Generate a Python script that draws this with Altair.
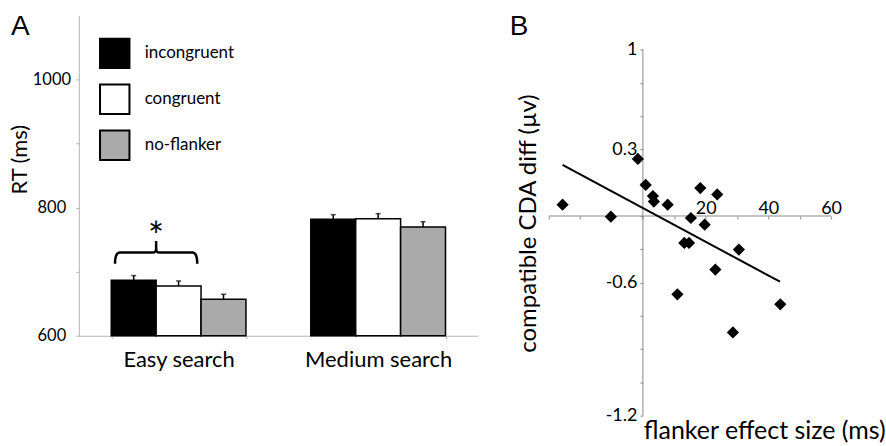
import altair as alt
import pandas as pd

# ---------------- Panel A data ----------------
groups = ["Easy search", "Medium search"]
conditions = ["incongruent", "congruent", "no-flanker"]
cond_colors = ["#000000", "#ffffff", "#aaaaaa"]
rt_easy = [686.6, 677.7, 657.0]
rt_medium = [781.7, 782.8, 769.7]
err_easy = [7.3, 7.8, 7.7]
err_medium = [7.3, 7.8, 8.3]
a_tick_vals = [600, 650, 700, 750, 800, 850, 900, 950, 1000, 1050]
a_label_vals = [600, 800, 1000]
a_domain = [600, 1100]
bracket_rt = [729.8]
star_rt = [751.0]

# ---------------- Panel B data ----------------
flanker_ms = [-25.6, -10.2, -1.6, 0.9, 3.2, 3.5, 7.9, 15.3, 18.3, 23.7,
              19.7, 13.2, 14.7, 30.6, 23.1, 11.0, 43.8, 28.7]
cda_diff = [0.068, -0.004, 0.343, 0.187, 0.120, 0.087, 0.068, -0.012, 0.168, 0.130,
            -0.052, -0.162, -0.162, -0.202, -0.322, -0.471, -0.531, -0.700]
fit_x = [-25.6, 43.7]
fit_y = [0.307, -0.395]
b_x_ticks = [-30, -20, -10, 0, 10, 20, 30, 40, 50, 60]
b_x_label_vals = [20, 40, 60]
b_y_ticks = [1, 0.8, 0.6, 0.4, 0.2, 0, -0.2, -0.4, -0.6, -0.8, -1, -1.2]
b_y_label_vals = [1, 0.4, -0.4, -1.2]
b_y_label_text = ["1", "0.3", "-0.6", "-1.2"]
bx_dom = [-30, 60]          # x axis extent
by_axis = [-1.2, 1]         # y axis extent
by_dom = [-1.2, 1.206]      # y scale (room above the axis)

FONT = "Lato"
LETTER_FONT = "Liberation Sans"

# ---------------- Panel A ----------------
A_W, A_H = 400, 321
df_bars = pd.DataFrame({
    "group": [g for g in groups for _ in conditions],
    "condition": conditions * 2,
    "rt": rt_easy + rt_medium,
    "err": err_easy + err_medium,
})
df_bars["upper"] = df_bars["rt"] + df_bars["err"]

a_label_expr = "indexof([" + ",".join(str(v) for v in a_label_vals) + "], datum.value) >= 0 ? format(datum.value, 'd') : ''"

x_a = alt.X("group:N",
            scale=alt.Scale(domain=groups, paddingInner=0.325, paddingOuter=0.1625),
            axis=alt.Axis(title=None, labelAngle=0, labelFontSize=22, labelFont=FONT,
                          labelColor="black", labelBaseline="alphabetic", labelPadding=28,
                          tickSize=3, tickBand="extent", domainColor="#b5b5b5",
                          tickColor="#b5b5b5", grid=False))
xo_a = alt.XOffset("condition:N", scale=alt.Scale(domain=conditions, paddingInner=0, paddingOuter=0))
y_scale_a = alt.Scale(domain=a_domain, zero=False, nice=False)
y_a = alt.Y("rt:Q", scale=y_scale_a,
            axis=alt.Axis(title="RT (ms)", values=a_tick_vals, labelExpr=a_label_expr,
                          labelFontSize=16.5, labelFont=FONT, labelColor="black",
                          labelAlign="center", labelPadding=24.5,
                          tickSize=3, domainColor="#b5b5b5", tickColor="#b5b5b5", grid=False,
                          labelOverlap=False, labelFlush=False,
                          titleFont=FONT, titleFontSize=22, titleFontWeight="normal",
                          titleColor="black", titleX=-59, titleY=144, titleAngle=270,
                          titleBaseline="middle", titleAlign="center"))

bars = alt.Chart(df_bars).mark_bar(stroke="black", strokeWidth=1.5).encode(
    x=x_a, xOffset=xo_a, y=y_a, y2=alt.datum(a_domain[0]),
    fill=alt.Fill("condition:N", scale=alt.Scale(domain=conditions, range=cond_colors),
                  legend=alt.Legend(title=None, orient="none", legendX=20, legendY=22,
                                    symbolType="square", symbolSize=870,
                                    symbolStrokeColor="black", symbolStrokeWidth=2,
                                    labelFontSize=17, labelFont=FONT, labelColor="black",
                                    labelOffset=14, rowPadding=8, padding=0)),
)
err_rules = alt.Chart(df_bars).mark_rule(color="black", strokeWidth=1.5).encode(
    x=x_a, xOffset=xo_a, y=alt.Y("rt:Q", scale=y_scale_a), y2="upper:Q")
err_caps = alt.Chart(df_bars).mark_tick(color="black", thickness=1.5, size=5).encode(
    x=x_a, xOffset=xo_a, y=alt.Y("upper:Q", scale=y_scale_a))

# significance bracket between incongruent and congruent (easy search)
df_br = pd.DataFrame({"group": ["Easy search"], "rt": bracket_rt})
bracket_path = "M-1,0.27 Q-1,0 -0.88,0 L-0.08,0 Q0,0 0,-0.1 L0,-0.28 M0,-0.1 Q0,0 0.08,0 L0.88,0 Q1,0 1,0.27"
bracket = alt.Chart(df_br).mark_point(shape=bracket_path, size=6790, filled=False,
                                      stroke="black", strokeWidth=2.5, opacity=1,
                                      xOffset=-22.5).encode(
    x=x_a, y=alt.Y("rt:Q", scale=y_scale_a))
df_star = pd.DataFrame({"group": ["Easy search"], "rt": star_rt})
star = alt.Chart(df_star).mark_text(text="*", font=FONT, fontSize=38, dx=-22.5,
                                    baseline="middle", color="black").encode(
    x=x_a, y=alt.Y("rt:Q", scale=y_scale_a))

panel_a = alt.layer(bars, err_rules, err_caps, bracket, star).properties(
    width=A_W, height=A_H,
    title=alt.TitleParams("A", anchor="start", frame="group", orient="top", baseline="top",
                          offset=-26, dx=-68, fontSize=28, font=LETTER_FONT,
                          fontWeight="normal", color="black"),
)

# ---------------- Panel B ----------------
B_W, B_H = 283, 401
x_axis_offset = B_H * (by_dom[1] - 0) / (by_dom[1] - by_dom[0]) - B_H
y_axis_offset = -B_W * (0 - bx_dom[0]) / (bx_dom[1] - bx_dom[0])

bx_label_expr = "indexof([" + ",".join(str(v) for v in b_x_label_vals) + "], datum.value) >= 0 ? datum.label : ''"
by_label_expr = ""
for v, t in zip(b_y_label_vals, b_y_label_text):
    by_label_expr += f"datum.value == {v} ? '{t}' : "
by_label_expr += "''"

df_sc = pd.DataFrame({"fx": flanker_ms, "cda": cda_diff})
df_fit = pd.DataFrame({"fx": fit_x, "cda": fit_y})
df_yaxis = pd.DataFrame({"fx": [0], "cda": [by_axis[0]], "cda2": [by_axis[1]]})
df_xaxis = pd.DataFrame({"fx": [bx_dom[0]], "fx2": [bx_dom[1]], "cda": [0]})

x_scale_b = alt.Scale(domain=bx_dom, nice=False, zero=False)
y_scale_b = alt.Scale(domain=by_dom, nice=False, zero=False)
x_b = alt.X("fx:Q", scale=x_scale_b,
            axis=alt.Axis(orient="bottom", offset=x_axis_offset, values=b_x_ticks,
                          domain=False,
                          labelExpr=bx_label_expr, labelOverlap=False, labelFlush=False,
                          labelBaseline="alphabetic", labelPadding=-5.5, labelFontSize=18,
                          labelFont=FONT, labelColor="black", tickSize=3,
                          tickColor="#8a8a8a", grid=False,
                          title="flanker effect size (ms)", titleFont=FONT, titleFontSize=25,
                          titleFontWeight="normal", titleColor="black",
                          titleX=216, titleY=223, titleAlign="center",
                          titleBaseline="alphabetic"))
y_b = alt.Y("cda:Q", scale=y_scale_b,
            axis=alt.Axis(orient="left", offset=y_axis_offset, values=b_y_ticks,
                          domain=False,
                          labelExpr=by_label_expr, labelOverlap=False, labelFlush=False,
                          labelFontSize=18, labelFont=FONT, labelColor="black",
                          labelPadding=3, tickSize=3,
                          tickColor="#8a8a8a", grid=False,
                          title="compatible CDA diff (µv)", titleFont=FONT, titleFontSize=24,
                          titleFontWeight="normal", titleColor="black",
                          titleX=-115, titleY=208, titleAngle=270,
                          titleAlign="center", titleBaseline="middle"))

yaxis_line = alt.Chart(df_yaxis).mark_rule(color="#8a8a8a", strokeWidth=1).encode(
    x=x_b, y=y_b, y2="cda2:Q")
xaxis_line = alt.Chart(df_xaxis).mark_rule(color="#8a8a8a", strokeWidth=1).encode(
    x=x_b, x2="fx2:Q", y=y_b)
points = alt.Chart(df_sc).mark_point(shape="diamond", filled=True, color="black",
                                     size=150, opacity=1).encode(x=x_b, y=y_b)
fit = alt.Chart(df_fit).mark_line(color="black", strokeWidth=2).encode(x=x_b, y=y_b)

panel_b = alt.layer(yaxis_line, xaxis_line, fit, points).properties(
    width=B_W, height=B_H,
    title=alt.TitleParams("B", anchor="start", frame="group", orient="top", baseline="top",
                          offset=-26, dx=-39, fontSize=28, font=LETTER_FONT,
                          fontWeight="normal", color="black"),
)

chart = alt.hconcat(panel_a, panel_b, spacing=32).properties(
    padding={"left": 9, "top": 13, "right": 0, "bottom": 0},
    background="white",
).configure_view(stroke=None, fill="white").configure_axis(grid=False)

chart.save("out.html", embed_options={"renderer": "svg", "actions": False})
